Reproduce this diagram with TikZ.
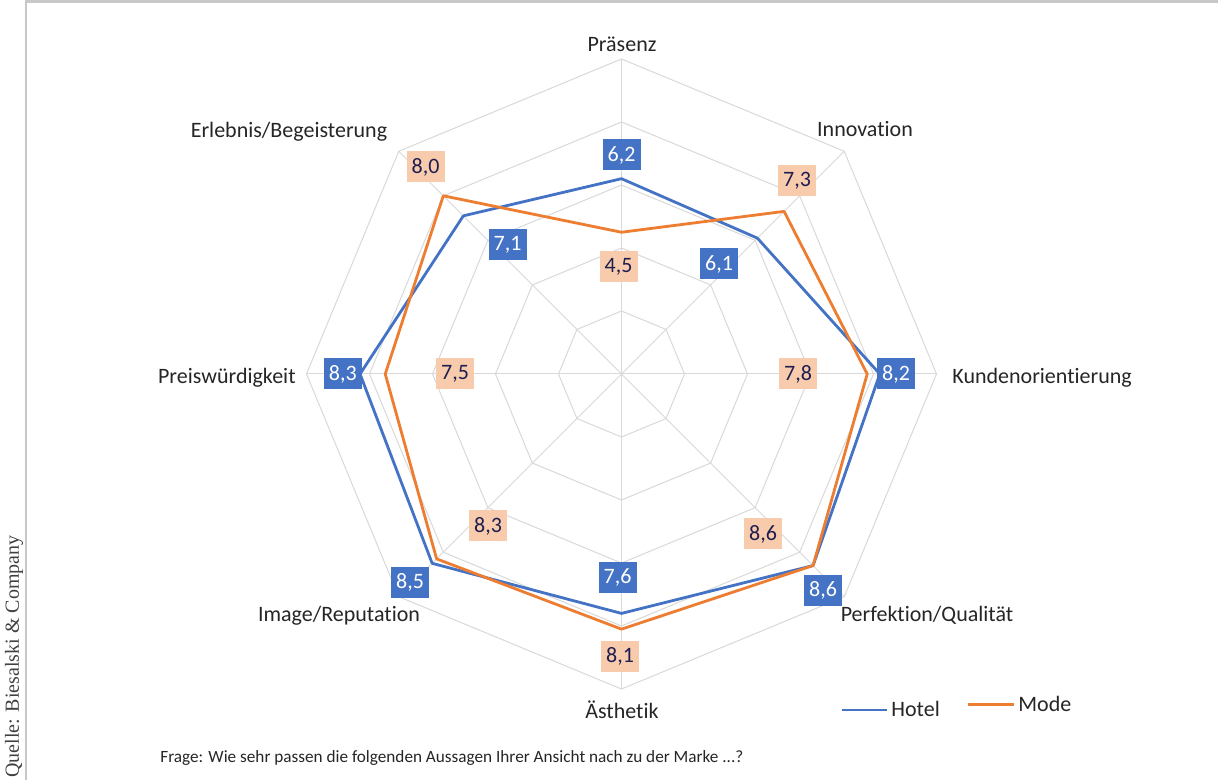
\documentclass[tikz,border=0pt]{standalone}
\usepackage{fontspec}
\setmainfont{Carlito}[Ligatures=NoCommon]
\newfontfamily\quellefont{Liberation Serif}
\definecolor{hotelblue}{RGB}{68, 114, 196}
\definecolor{modeorange}{RGB}{237, 125, 49}
\definecolor{modepeach}{RGB}{248, 203, 173}
\definecolor{labelnavy}{RGB}{30, 30, 80}
\definecolor{gridgray}{RGB}{217, 217, 217}
\definecolor{framegray}{RGB}{200, 200, 200}
\usepackage{tikz}
\usetikzlibrary{calc}
\tikzset{
    axislabel/.style={font=\fontsize{11}{13}\selectfont, text=black!85, inner sep=0pt},
    valuebox/.style={rectangle, minimum width=19pt, minimum height=15.5pt, inner sep=0pt, font=\fontsize{11}{13}\selectfont},
    hotelbox/.style={valuebox, fill=hotelblue, text=white},
    modebox/.style={valuebox, fill=modepeach, text=labelnavy},
    gridline/.style={draw=gridgray, line width=0.5pt},
    hotelline/.style={draw=hotelblue, line width=1.4pt, line join=round},
    modeline/.style={draw=modeorange, line width=1.4pt, line join=round},
    notetext/.style={font=\fontsize{8.6}{10}\selectfont, text=black!85, inner sep=0pt},
}

\begin{document}
\begin{tikzpicture}[x=0.5pt, y=0.5pt]
    \useasboundingbox (-621.5,-406) rectangle (596.5,374);
    \fill[white] (-621.5,-406) rectangle (596.5,374);
    % frame
    \draw[framegray, line width=1.1pt] (-595.5,-406) -- (-595.5,372.5) -- (596.5,372.5);

    % grid
    \foreach \r in {2,4,6,8,10}
        \draw[gridline] (90:{\r*31.5}) \foreach \a in {45,0,-45,-90,-135,-180,-225} {-- (\a:{\r*31.5})} -- cycle;
    \foreach \a in {90,45,...,-225}
        \draw[gridline] (0,0) -- (\a:315);

    % data points
    \foreach \v [count=\i] in {6.2,6.1,8.2,8.6,7.6,8.5,8.3,7.1}
        \coordinate (h\i) at ({135-45*\i}:{\v*31.5});
    \foreach \v [count=\i] in {4.5,7.3,7.8,8.6,8.1,8.3,7.5,8.0}
        \coordinate (m\i) at ({135-45*\i}:{\v*31.5});

    \draw[hotelline] (h1) -- (h2) -- (h3) -- (h4) -- (h5) -- (h6) -- (h7) -- (h8) -- cycle;
    \draw[modeline] (m1) -- (m2) -- (m3) -- (m4) -- (m5) -- (m6) -- (m7) -- (m8) -- cycle;

    % axis labels
    \node[axislabel, anchor=base] (ax-praesenz) at (0.5,322) {Präsenz};
    \node[axislabel, anchor=base] (ax-innovation) at (243.5,237) {Innovation};
    \node[axislabel, anchor=base west] (ax-kunden) at (330.5,-10) {Kundenorientierung};
    \node[axislabel, anchor=base] (ax-perfektion) at (305.5,-247) {Perfektion/Qualität};
    \node[axislabel, anchor=base] (ax-aesthetik) at (0.5,-344) {Ästhetik};
    \node[axislabel, anchor=base] (ax-image) at (-282.5,-247) {Image/Reputation};
    \node[axislabel, anchor=base east] (ax-preis) at (-325.5,-10) {Preiswürdigkeit};
    \node[axislabel, anchor=base] (ax-erlebnis) at (-332.5,236) {Erlebnis/Begeisterung};

    % value labels Hotel
    \node[hotelbox] (hv1) at (0,219) {6,2};
    \node[hotelbox] (hv2) at (97.5,110) {6,1};
    \node[hotelbox] (hv3) at (274.5,0) {8,2};
    \node[hotelbox] (hv4) at (201.5,-216) {8,6};
    \node[hotelbox] (hv5) at (-4,-203) {7,6};
    \node[hotelbox] (hv6) at (-211.5,-208) {8,5};
    \node[hotelbox] (hv7) at (-278.7,0) {8,3};
    \node[hotelbox] (hv8) at (-114,129) {7,1};

    % value labels Mode
    \node[modebox] (mv1) at (-3,107) {4,5};
    \node[modebox] (mv2) at (175.5,193) {7,3};
    \node[modebox] (mv3) at (176.5,0) {7,8};
    \node[modebox] (mv4) at (141.5,-160) {8,6};
    \node[modebox] (mv5) at (-1.5,-282) {8,1};
    \node[modebox] (mv6) at (-133.5,-152) {8,3};
    \node[modebox] (mv7) at (-166.5,0) {7,5};
    \node[modebox] (mv8) at (-196,207) {8,0};

    % legend
    \coordinate (hotel-start) at (220.2,-336);
    \node[axislabel, anchor=base west, inner xsep=2pt] (hotel-text) at (265.5,-342) {Hotel};
    \draw[hotelline] (hotel-start) -- (hotel-start -| hotel-text.west);
    \coordinate (mode-start) at (346.2,-330.3);
    \node[axislabel, anchor=base west, inner xsep=2pt] (mode-text) at (392.5,-337) {Mode};
    \draw[modeline] (mode-start) -- (mode-start -| mode-text.west);

    % notes
    \node[notetext, anchor=base west] (frage) at (-461.5,-388)
        {Frage: Wie sehr passen die folgenden Aussagen Ihrer Ansicht nach zu der Marke ...?};
    \node[notetext, anchor=base west, rotate=90, font=\quellefont\fontsize{10}{12}\selectfont, text=black!75] (quelle) at (-602.5,-404)
        {Quelle: Biesalski \& Company};
\end{tikzpicture}
\end{document}
